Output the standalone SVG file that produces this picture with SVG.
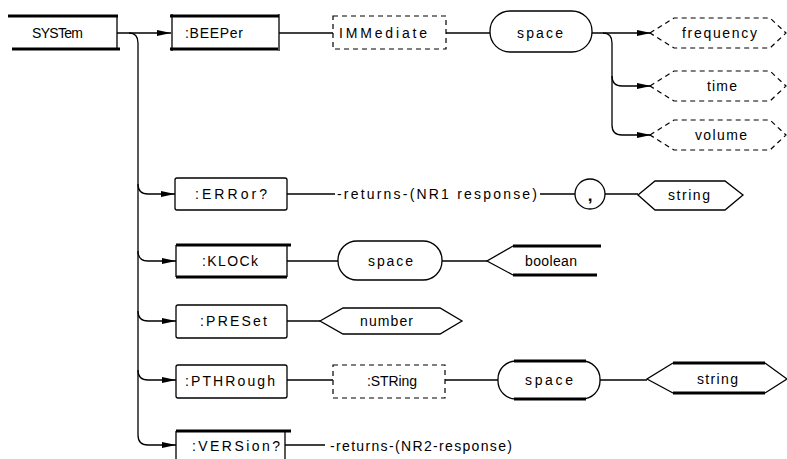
<svg xmlns="http://www.w3.org/2000/svg" width="787" height="459" viewBox="0 0 787 459">
  <defs>
    <style>
      .thin { fill: none; stroke: #000; stroke-width: 1.3; }
      .thick { fill: none; stroke: #000; stroke-width: 3.2; }
      .dash { fill: none; stroke: #000; stroke-width: 1.2; stroke-dasharray: 5 4; }
      .wire { fill: none; stroke: #000; stroke-width: 1.3; }
      text { font-family: "Liberation Sans", Arial, sans-serif; font-size: 14px; fill: #000; }
      .c { text-anchor: middle; }
    </style>
    <marker id="arrow" markerUnits="userSpaceOnUse" markerWidth="14" markerHeight="7" refX="14" refY="3.5" orient="auto">
      <path d="M0,0.6 L14,3.5 L0,6.4 z" fill="#000"/>
    </marker>
  </defs>

  <rect width="787" height="459" fill="#fff"/>

  <!-- connectors -->
  <g id="connectors">
    <path class="wire" d="M117,33 H171" marker-end="url(#arrow)"/>
    <path class="wire" d="M129,33 Q138,33 138,43 V435 Q138,445 148,445 H176" marker-end="url(#arrow)"/>
    <path class="wire" d="M138,184 Q138,194 148,194 H175" marker-end="url(#arrow)"/>
    <path class="wire" d="M138,251 Q138,261 148,261 H176" marker-end="url(#arrow)"/>
    <path class="wire" d="M138,311 Q138,321 148,321 H176" marker-end="url(#arrow)"/>
    <path class="wire" d="M138,370 Q138,380 148,380 H176" marker-end="url(#arrow)"/>

    <path class="wire" d="M279,33 H333"/>
    <path class="wire" d="M446,33 H490"/>
    <path class="wire" d="M592,33 H651" marker-end="url(#arrow)"/>
    <path class="wire" d="M603,33 Q612,33 612,43 V125 Q612,135 622,135 H651" marker-end="url(#arrow)"/>
    <path class="wire" d="M612,76 Q612,86 622,86 H651" marker-end="url(#arrow)"/>

    <path class="wire" d="M287,194 H335"/>
    <path class="wire" d="M540,194 H575"/>
    <path class="wire" d="M605,194 H638"/>

    <path class="wire" d="M287,261 H338"/>
    <path class="wire" d="M442,261 H487"/>

    <path class="wire" d="M287,321 H320"/>

    <path class="wire" d="M287,380 H333"/>
    <path class="wire" d="M445,380 H498"/>
    <path class="wire" d="M600,380 H647"/>

    <path class="wire" d="M285,445 H325"/>
  </g>

  <!-- root keyword -->
  <g id="system">
    <path class="thick" d="M8,16 H118 M12,49 H120"/>
    <path class="thin" d="M117,15 V50"/>
    <text x="32" y="38" textLength="51" lengthAdjust="spacing">SYSTem</text>
  </g>

  <!-- :BEEPer branch -->
  <g id="beeper">
    <path class="thick" d="M170,16 H279 M170,49 H278"/>
    <path class="thin" d="M172,14 V51 M279,14 V51"/>
    <text x="185" y="38" textLength="58" lengthAdjust="spacing">:BEEPer</text>
  </g>
  <g id="immediate">
    <rect class="dash" x="333" y="16" width="113" height="33"/>
    <text x="339" y="38" textLength="88" lengthAdjust="spacing">IMMediate</text>
  </g>
  <g id="beeper-space">
    <rect class="thin" x="490" y="11" width="102" height="41" rx="20"/>
    <text x="517" y="38" textLength="46" lengthAdjust="spacing">space</text>
  </g>
  <g id="frequency">
    <polygon class="dash" points="650,33 674,18 770,18 786,33 770,48 674,48"/>
    <text x="682" y="38" textLength="75" lengthAdjust="spacing">frequency</text>
  </g>
  <g id="time">
    <polygon class="dash" points="650,86 674,71 770,71 786,86 770,101 674,101"/>
    <text x="707" y="91" textLength="30" lengthAdjust="spacing">time</text>
  </g>
  <g id="volume">
    <polygon class="dash" points="650,135 674,120 770,120 786,135 770,150 674,150"/>
    <text x="695" y="140" textLength="52" lengthAdjust="spacing">volume</text>
  </g>

  <!-- :ERRor? branch -->
  <g id="error">
    <rect class="thin" x="175" y="178" width="112" height="32" rx="2"/>
    <text x="195" y="199" textLength="72" lengthAdjust="spacing">:ERRor?</text>
  </g>
  <g id="error-returns">
    <text x="337" y="199" textLength="200" lengthAdjust="spacing">-returns-(NR1 response)</text>
  </g>
  <g id="comma">
    <circle class="thin" cx="590" cy="194" r="15"/>
    <text class="c" x="590" y="201" style="font-size:17px;font-weight:bold">,</text>
  </g>
  <g id="error-string">
    <polygon class="thin" points="638,195 655,181 725,181 743,195 725,210 655,210"/>
    <text x="668" y="200" textLength="42" lengthAdjust="spacing">string</text>
  </g>

  <!-- :KLOCk branch -->
  <g id="klock">
    <path class="thick" d="M176,245 H291 M176,277 H287"/>
    <path class="thin" d="M176,245 V277 M287,245 V277"/>
    <text x="202" y="266" textLength="56" lengthAdjust="spacing">:KLOCk</text>
  </g>
  <g id="klock-space">
    <rect class="thin" x="338" y="241" width="104" height="39" rx="19"/>
    <text x="368" y="266" textLength="45" lengthAdjust="spacing">space</text>
  </g>
  <g id="boolean">
    <path class="thin" d="M513,246 L487,261 L513,275"/>
    <path class="thick" d="M513,246 H601 M513,275 H597"/>
    <text x="525" y="266" textLength="52" lengthAdjust="spacing">boolean</text>
  </g>

  <!-- :PRESet branch -->
  <g id="preset">
    <rect class="thin" x="176" y="305" width="111" height="33" rx="2"/>
    <text x="200" y="326" textLength="67" lengthAdjust="spacing">:PRESet</text>
  </g>
  <g id="number">
    <polygon class="thin" points="320,321 343,308 440,308 462,321 440,334 343,334"/>
    <text x="360" y="326" textLength="53" lengthAdjust="spacing">number</text>
  </g>

  <!-- :PTHRough branch -->
  <g id="pthrough">
    <rect class="thin" x="176" y="365" width="111" height="33" rx="2"/>
    <text x="185" y="386" textLength="90" lengthAdjust="spacing">:PTHRough</text>
  </g>
  <g id="string-keyword">
    <rect class="dash" x="333" y="365" width="112" height="33"/>
    <text x="367" y="386" textLength="50" lengthAdjust="spacing">:STRing</text>
  </g>
  <g id="pthrough-space">
    <rect class="thin" x="498" y="361" width="102" height="38" rx="18"/>
    <path class="thick" d="M514,361 H586 M514,399 H586"/>
    <text x="525" y="385" textLength="48" lengthAdjust="spacing">space</text>
  </g>
  <g id="pthrough-string">
    <path class="thin" d="M673,363 L647,379 L673,393 M765,363 L787,379 L765,393"/>
    <path class="thick" d="M673,363 H765 M673,393 H765"/>
    <text x="697" y="384" textLength="41" lengthAdjust="spacing">string</text>
  </g>

  <!-- :VERSion? branch -->
  <g id="version">
    <path class="thick" d="M176,431 H291"/>
    <path class="thin" d="M176,431 V459 M285,431 V459"/>
    <text x="192" y="451" textLength="88" lengthAdjust="spacing">:VERSion?</text>
  </g>
  <g id="version-returns">
    <text x="330" y="451" textLength="182" lengthAdjust="spacing">-returns-(NR2-response)</text>
  </g>
</svg>
